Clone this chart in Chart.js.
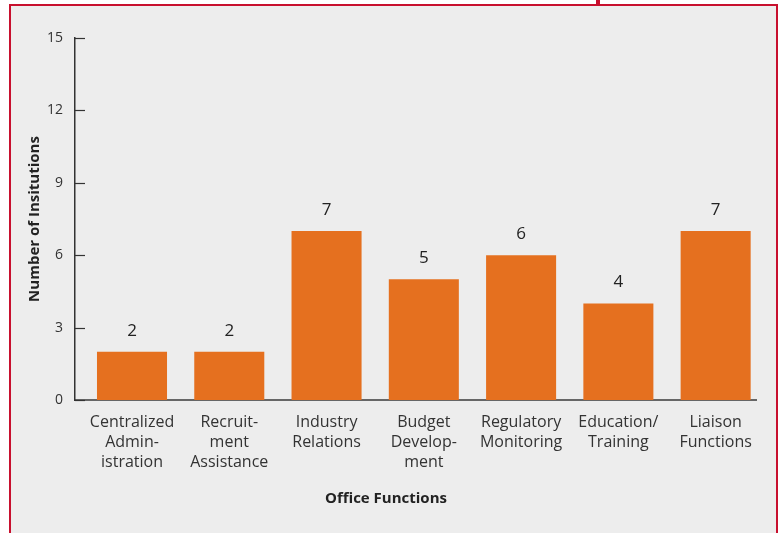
<!DOCTYPE html>
<html>
<head>
<meta charset="utf-8">
<script src="https://cdn.jsdelivr.net/npm/chart.js@4.4.1/dist/chart.umd.min.js"></script>
<style>
  html, body { margin: 0; padding: 0; background: #ffffff; }
  body { width: 783px; height: 533px; position: relative; overflow: hidden; }
  #frame { position: absolute; left: 9px; top: 4px; width: 765px; height: 540px;
           border-top: 2px solid #c8102e; border-left: 2px solid #c8102e; border-right: 2px solid #c8102e;
           background: #ededed; }
  #notch { position: absolute; left: 596px; top: 0; width: 4px; height: 6px; background: #c8102e; }
  #wrap { position: absolute; left: 0; top: 0; width: 783px; height: 533px; }
</style>
</head>
<body>
<div id="frame"></div>
<div id="notch"></div>
<div id="wrap"><canvas id="c" width="783" height="533"></canvas></div>
<script>
const categories = [
  ["Centralized", "Admin-", "istration"],
  ["Recruit-", "ment", "Assistance"],
  ["Industry", "Relations"],
  ["Budget", "Develop-", "ment"],
  ["Regulatory", "Monitoring"],
  ["Education/", "Training"],
  ["Liaison", "Functions"]
];
const institutions = [2, 2, 7, 5, 6, 4, 7];
const yTicks = [0, 3, 6, 9, 12, 15];

const FONT = "'Open Sans', 'Noto Sans', sans-serif";

const points = institutions.map((v, i) => ({ x: i, y: v }));

const innerTicks = {
  id: 'innerTicks',
  afterDraw(chart) {
    const ctx = chart.ctx, y = chart.scales.y, x0 = chart.chartArea.left;
    ctx.save();
    ctx.strokeStyle = '#333';
    ctx.lineWidth = 1.2;
    yTicks.forEach(t => {
      const py = Math.round(y.getPixelForValue(t)) + 0.5;
      ctx.beginPath();
      ctx.moveTo(x0, py);
      ctx.lineTo(x0 + 10, py);
      ctx.stroke();
    });
    ctx.restore();
  }
};

const valueLabels = {
  id: 'valueLabels',
  afterDatasetsDraw(chart) {
    const ctx = chart.ctx;
    const meta = chart.getDatasetMeta(0);
    ctx.save();
    ctx.fillStyle = '#222';
    ctx.font = "17px " + FONT;
    ctx.textAlign = 'center';
    ctx.textBaseline = 'middle';
    meta.data.forEach((bar, i) => {
      ctx.fillText(String(institutions[i]), bar.x, bar.y - 21);
    });
    ctx.restore();
  }
};

new Chart(document.getElementById('c'), {
  type: 'bar',
  data: {
    datasets: [{
      data: points,
      backgroundColor: '#e5701f',
      borderWidth: 0,
      categoryPercentage: 1,
      barPercentage: 0.72
    }]
  },
  options: {
    responsive: false,
    animation: false,
    layout: { padding: { left: 15.5, right: 26.5, top: 38, bottom: 0 } },
    plugins: {
      legend: { display: false },
      tooltip: { enabled: false },
      title: {
        display: true,
        position: 'bottom',
        text: 'Office Functions',
        color: '#222',
        font: { family: FONT, size: 15, weight: 'bold', lineHeight: 1.2 },
        padding: { top: 10, bottom: 25 }
      }
    },
    scales: {
      x: {
        type: 'linear',
        offset: false,
        min: -0.586,
        max: 6.42,
        afterBuildTicks(scale) { scale.ticks = categories.map((_, i) => ({ value: i })); },
        afterFit(scale) { scale.height = 80; },
        grid: { display: false, drawTicks: false, offset: false },
        border: { display: true, color: '#666', width: 2 },
        ticks: {
          autoSkip: false,
          maxRotation: 0,
          padding: 12,
          color: '#333',
          font: { family: FONT, size: 16, lineHeight: 1.25 },
          callback: (v) => categories[v] || ''
        }
      },
      y: {
        min: 0,
        max: 15,
        afterBuildTicks(scale) { scale.ticks = yTicks.map(v => ({ value: v })); },
        afterFit(scale) { scale.width = 59.5; },
        grid: { display: false, drawTicks: false },
        border: { display: true, color: '#333', width: 1.5 },
        ticks: {
          padding: 12,
          color: '#333',
          font: { family: FONT, size: 14 }
        },
        title: {
          display: true,
          text: 'Number of Insitutions',
          color: '#222',
          font: { family: FONT, size: 15, weight: 'bold', lineHeight: 1.2 },
          padding: { top: 10, bottom: 0 }
        }
      }
    }
  },
  plugins: [innerTicks, valueLabels]
});
</script>
</body>
</html>
